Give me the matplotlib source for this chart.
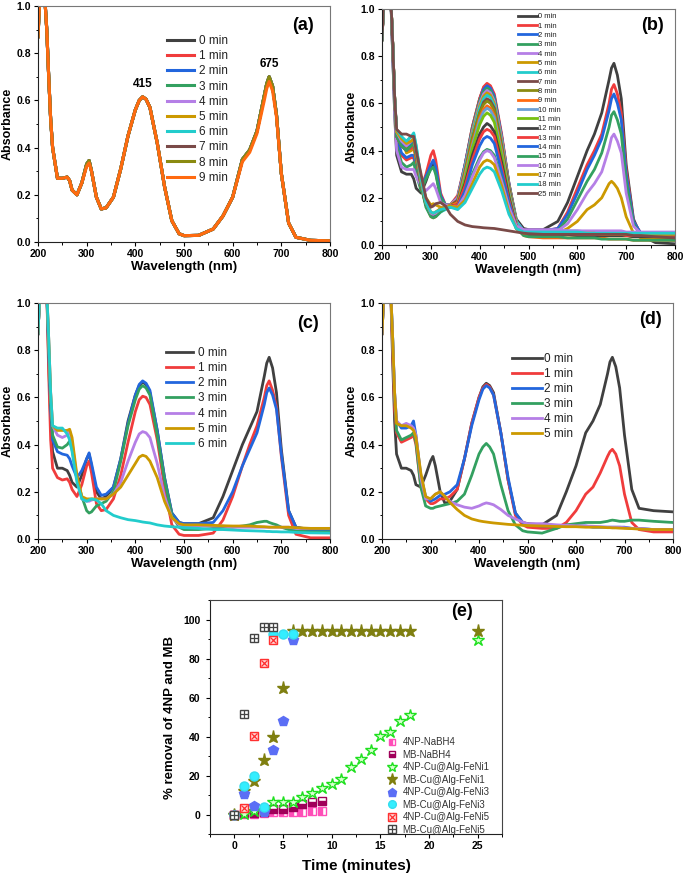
import numpy as np
import matplotlib
matplotlib.use('Agg')
import matplotlib.pyplot as plt
from matplotlib.ticker import MultipleLocator

plt.rcParams['font.family'] = ['Liberation Sans', 'DejaVu Sans']
plt.rcParams['font.weight'] = 'bold'

# wavelength grid shared by the spectra (nm)
wl = [200, 205, 212, 218, 222, 226, 230, 240, 250, 260, 265, 270, 280, 290, 300, 305, 310,
      320, 330, 340, 355, 370, 385, 400, 408, 415, 422, 430, 445, 460, 475, 490,
      500, 530, 560, 580, 600, 620, 635, 650, 665, 670, 675, 682, 690, 700, 715, 730, 760, 800]

# ---- panel (a): control, spectra do not change ----
a_early = [0.87, 1.1, 1.1, 0.9, 0.70, 0.52, 0.40, 0.27, 0.27, 0.275, 0.26, 0.22,
           0.20, 0.25, 0.33, 0.345, 0.30, 0.19, 0.14, 0.145,
           0.19, 0.31, 0.45, 0.56, 0.60, 0.615, 0.605, 0.57, 0.42, 0.235, 0.09, 0.035,
           0.027, 0.028, 0.055, 0.11, 0.19, 0.35, 0.39, 0.47, 0.62, 0.67, 0.70, 0.66,
           0.54, 0.29, 0.08, 0.02, 0.007, 0.005]
a_late = [0.87, 1.1, 1.1, 0.9, 0.70, 0.52, 0.40, 0.27, 0.27, 0.275, 0.26, 0.22,
          0.20, 0.25, 0.32, 0.335, 0.30, 0.19, 0.14, 0.145,
          0.19, 0.31, 0.45, 0.56, 0.60, 0.615, 0.605, 0.57, 0.42, 0.235, 0.09, 0.035,
          0.027, 0.028, 0.055, 0.11, 0.19, 0.34, 0.38, 0.46, 0.60, 0.65, 0.68, 0.64,
          0.53, 0.29, 0.08, 0.02, 0.007, 0.005]
a_times = ['0 min', '1 min', '2 min', '3 min', '4 min', '5 min', '6 min', '7 min', '8 min', '9 min']

# ---- panel (b) ----
b_00 = [0.87, 1.1, 1.1, 1.05, 0.80, 0.55, 0.38, 0.31, 0.30, 0.30, 0.28, 0.24,
        0.22, 0.27, 0.33, 0.35, 0.31, 0.20, 0.17, 0.17,
        0.20, 0.34, 0.50, 0.62, 0.665, 0.68, 0.67, 0.63, 0.46, 0.26, 0.11, 0.07,
        0.065, 0.065, 0.10, 0.18, 0.29, 0.40, 0.47, 0.56, 0.70, 0.75, 0.77, 0.72,
        0.62, 0.34, 0.11, 0.04, 0.01, 0.005]
b_01 = [0.87, 1.1, 1.1, 1.05, 0.82, 0.60, 0.45, 0.38, 0.36, 0.37, 0.37, 0.32,
        0.24, 0.30, 0.38, 0.40, 0.36, 0.22, 0.17, 0.17,
        0.21, 0.34, 0.50, 0.62, 0.67, 0.685, 0.675, 0.64, 0.47, 0.26, 0.10, 0.06,
        0.06, 0.06, 0.07, 0.14, 0.24, 0.34, 0.40, 0.47, 0.60, 0.66, 0.68, 0.64,
        0.56, 0.32, 0.10, 0.05, 0.04, 0.035]
b_02 = [0.87, 1.1, 1.1, 1.05, 0.82, 0.60, 0.46, 0.39, 0.37, 0.38, 0.38, 0.33,
        0.24, 0.29, 0.34, 0.36, 0.33, 0.21, 0.17, 0.17,
        0.20, 0.34, 0.49, 0.61, 0.66, 0.675, 0.665, 0.63, 0.46, 0.26, 0.10, 0.06,
        0.06, 0.06, 0.07, 0.13, 0.22, 0.32, 0.38, 0.45, 0.57, 0.62, 0.64, 0.60,
        0.53, 0.30, 0.10, 0.05, 0.045, 0.04]
b_03 = [0.87, 1.1, 1.1, 1.05, 0.80, 0.58, 0.42, 0.35, 0.33, 0.34, 0.35, 0.30,
        0.23, 0.28, 0.32, 0.33, 0.30, 0.20, 0.17, 0.17,
        0.20, 0.33, 0.49, 0.61, 0.65, 0.665, 0.655, 0.62, 0.45, 0.25, 0.10, 0.05,
        0.05, 0.05, 0.06, 0.11, 0.19, 0.27, 0.32, 0.39, 0.50, 0.55, 0.565, 0.53,
        0.47, 0.27, 0.09, 0.04, 0.03, 0.03]
b_04 = [0.87, 1.1, 1.1, 1.05, 0.80, 0.56, 0.40, 0.33, 0.32, 0.32, 0.32, 0.29,
        0.25, 0.23, 0.25, 0.26, 0.24, 0.18, 0.17, 0.17,
        0.20, 0.33, 0.48, 0.60, 0.64, 0.655, 0.645, 0.61, 0.45, 0.25, 0.10, 0.06,
        0.06, 0.06, 0.06, 0.09, 0.15, 0.22, 0.26, 0.31, 0.41, 0.455, 0.47, 0.44,
        0.39, 0.22, 0.08, 0.05, 0.05, 0.05]
b_05 = [0.87, 1.1, 1.1, 1.05, 0.85, 0.62, 0.47, 0.46, 0.39, 0.40, 0.41, 0.36,
        0.27, 0.20, 0.17, 0.175, 0.17, 0.16, 0.16, 0.17,
        0.19, 0.32, 0.47, 0.59, 0.63, 0.645, 0.635, 0.60, 0.44, 0.25, 0.10, 0.05,
        0.05, 0.05, 0.05, 0.07, 0.10, 0.15, 0.17, 0.20, 0.26, 0.27, 0.26, 0.24,
        0.20, 0.12, 0.05, 0.03, 0.025, 0.02]
b_06 = [0.87, 1.1, 1.1, 1.05, 0.85, 0.62, 0.47, 0.44, 0.44, 0.46, 0.47, 0.42,
        0.28, 0.19, 0.13, 0.12, 0.12, 0.14, 0.15, 0.16,
        0.19, 0.32, 0.46, 0.58, 0.62, 0.635, 0.625, 0.59, 0.43, 0.24, 0.10, 0.06,
        0.06, 0.055, 0.055, 0.055, 0.055, 0.055, 0.055, 0.055, 0.055, 0.055, 0.055, 0.055,
        0.055, 0.05, 0.05, 0.05, 0.05, 0.05]
b_07 = [0.87, 1.1, 1.1, 1.05, 0.85, 0.62, 0.47, 0.45, 0.43, 0.44, 0.45, 0.40,
        0.27, 0.18, 0.13, 0.125, 0.13, 0.15, 0.16, 0.165,
        0.19, 0.31, 0.45, 0.56, 0.605, 0.62, 0.61, 0.58, 0.42, 0.24, 0.09, 0.05,
        0.05, 0.05, 0.05, 0.05, 0.045, 0.045, 0.045, 0.045, 0.045, 0.045, 0.045, 0.045,
        0.045, 0.045, 0.04, 0.04, 0.04, 0.04]
b_08 = [0.87, 1.1, 1.1, 1.05, 0.85, 0.62, 0.48, 0.44, 0.42, 0.43, 0.44, 0.39,
        0.26, 0.17, 0.125, 0.12, 0.125, 0.15, 0.16, 0.165,
        0.18, 0.31, 0.45, 0.56, 0.595, 0.61, 0.60, 0.57, 0.41, 0.23, 0.09, 0.05,
        0.045, 0.045, 0.045, 0.045, 0.04, 0.04, 0.04, 0.04, 0.04, 0.04, 0.04, 0.04,
        0.04, 0.04, 0.035, 0.035, 0.035, 0.035]
b_09 = [0.87, 1.1, 1.1, 1.05, 0.85, 0.62, 0.47, 0.43, 0.41, 0.42, 0.43, 0.38,
        0.25, 0.17, 0.12, 0.115, 0.12, 0.15, 0.16, 0.165,
        0.18, 0.30, 0.43, 0.54, 0.575, 0.59, 0.58, 0.55, 0.40, 0.22, 0.09, 0.04,
        0.035, 0.03, 0.03, 0.03, 0.03, 0.03, 0.03, 0.03, 0.025, 0.025, 0.025, 0.025,
        0.025, 0.025, 0.02, 0.02, 0.02, 0.02]
b_10 = [0.87, 1.1, 1.1, 1.05, 0.85, 0.62, 0.48, 0.44, 0.42, 0.44, 0.45, 0.40,
        0.27, 0.18, 0.13, 0.13, 0.13, 0.15, 0.16, 0.165,
        0.17, 0.29, 0.42, 0.53, 0.565, 0.58, 0.57, 0.54, 0.39, 0.22, 0.09, 0.06,
        0.06, 0.06, 0.06, 0.06, 0.06, 0.055, 0.055, 0.055, 0.055, 0.055, 0.055, 0.055,
        0.055, 0.05, 0.05, 0.05, 0.05, 0.05]
b_11 = [0.87, 1.1, 1.1, 1.05, 0.85, 0.62, 0.47, 0.43, 0.41, 0.43, 0.44, 0.39,
        0.26, 0.17, 0.125, 0.12, 0.125, 0.15, 0.16, 0.165,
        0.17, 0.28, 0.41, 0.51, 0.545, 0.56, 0.55, 0.52, 0.38, 0.21, 0.08, 0.05,
        0.05, 0.05, 0.05, 0.05, 0.05, 0.05, 0.05, 0.045, 0.045, 0.045, 0.045, 0.045,
        0.045, 0.045, 0.045, 0.045, 0.045, 0.045]
b_12 = [0.87, 1.1, 1.1, 1.05, 0.85, 0.62, 0.46, 0.42, 0.40, 0.42, 0.43, 0.38,
        0.25, 0.17, 0.13, 0.125, 0.13, 0.15, 0.16, 0.165,
        0.17, 0.26, 0.38, 0.47, 0.50, 0.515, 0.505, 0.48, 0.35, 0.20, 0.08, 0.05,
        0.045, 0.045, 0.045, 0.045, 0.04, 0.04, 0.04, 0.04, 0.04, 0.04, 0.04, 0.04,
        0.04, 0.04, 0.035, 0.035, 0.035, 0.035]
b_13 = [0.87, 1.1, 1.1, 1.05, 0.85, 0.62, 0.46, 0.42, 0.40, 0.41, 0.42, 0.37,
        0.25, 0.17, 0.13, 0.13, 0.135, 0.15, 0.16, 0.165,
        0.17, 0.25, 0.36, 0.45, 0.48, 0.49, 0.483, 0.46, 0.33, 0.19, 0.08, 0.05,
        0.05, 0.05, 0.05, 0.05, 0.045, 0.045, 0.045, 0.045, 0.045, 0.045, 0.045, 0.045,
        0.045, 0.04, 0.04, 0.04, 0.04, 0.04]
b_14 = [0.87, 1.1, 1.1, 1.05, 0.85, 0.62, 0.47, 0.43, 0.42, 0.43, 0.44, 0.39,
        0.26, 0.17, 0.135, 0.13, 0.135, 0.15, 0.16, 0.165,
        0.16, 0.23, 0.34, 0.42, 0.45, 0.46, 0.453, 0.43, 0.31, 0.18, 0.07, 0.055,
        0.055, 0.055, 0.055, 0.05, 0.05, 0.05, 0.05, 0.05, 0.05, 0.05, 0.05, 0.05,
        0.05, 0.05, 0.045, 0.045, 0.045, 0.045]
b_15 = [0.87, 1.1, 1.1, 1.05, 0.85, 0.62, 0.46, 0.42, 0.40, 0.42, 0.43, 0.38,
        0.25, 0.16, 0.12, 0.115, 0.12, 0.14, 0.155, 0.16,
        0.16, 0.21, 0.30, 0.37, 0.395, 0.405, 0.40, 0.38, 0.28, 0.16, 0.07, 0.04,
        0.035, 0.035, 0.035, 0.03, 0.03, 0.03, 0.03, 0.025, 0.025, 0.025, 0.025, 0.025,
        0.025, 0.025, 0.02, 0.02, 0.02, 0.02]
b_16 = [0.87, 1.1, 1.1, 1.05, 0.85, 0.62, 0.48, 0.44, 0.42, 0.44, 0.45, 0.40,
        0.27, 0.18, 0.135, 0.13, 0.135, 0.155, 0.16, 0.165,
        0.16, 0.21, 0.29, 0.36, 0.39, 0.40, 0.394, 0.37, 0.27, 0.16, 0.08, 0.065,
        0.065, 0.065, 0.065, 0.06, 0.06, 0.06, 0.06, 0.06, 0.06, 0.06, 0.06, 0.06,
        0.06, 0.055, 0.055, 0.055, 0.055, 0.055]
b_17 = [0.87, 1.1, 1.1, 1.05, 0.85, 0.62, 0.48, 0.45, 0.43, 0.44, 0.45, 0.40,
        0.27, 0.18, 0.14, 0.135, 0.14, 0.155, 0.16, 0.165,
        0.16, 0.19, 0.26, 0.33, 0.352, 0.36, 0.355, 0.34, 0.25, 0.14, 0.07, 0.05,
        0.05, 0.05, 0.05, 0.05, 0.05, 0.05, 0.05, 0.045, 0.045, 0.045, 0.045, 0.045,
        0.045, 0.045, 0.045, 0.045, 0.045, 0.045]
b_18 = [0.87, 1.1, 1.1, 1.05, 0.85, 0.62, 0.49, 0.46, 0.44, 0.46, 0.475, 0.42,
        0.28, 0.18, 0.14, 0.135, 0.14, 0.15, 0.155, 0.16,
        0.15, 0.18, 0.24, 0.30, 0.322, 0.33, 0.325, 0.31, 0.23, 0.13, 0.07, 0.055,
        0.055, 0.055, 0.055, 0.055, 0.055, 0.05, 0.05, 0.05, 0.05, 0.05, 0.05, 0.05,
        0.05, 0.05, 0.05, 0.05, 0.05, 0.05]
b_25 = [0.87, 1.1, 1.1, 1.05, 0.85, 0.62, 0.49, 0.47, 0.47, 0.46, 0.46, 0.40,
        0.30, 0.20, 0.16, 0.165, 0.175, 0.18, 0.165, 0.13,
        0.10, 0.085, 0.078, 0.075, 0.073, 0.072, 0.071, 0.07, 0.065, 0.06, 0.055, 0.05,
        0.048, 0.045, 0.045, 0.045, 0.045, 0.045, 0.045, 0.045, 0.045, 0.045, 0.045, 0.045,
        0.045, 0.045, 0.04, 0.04, 0.035, 0.03]
b_times = ['0 min', '1 min', '2 min', '3 min', '4 min', '5 min', '6 min', '7 min', '8 min', '9 min',
           '10 min', '11 min', '12 min', '13 min', '14 min', '15 min', '16 min', '17 min', '18 min', '25 min']

# ---- panel (c) ----
c_0 = [0.87, 1.1, 1.1, 1.05, 0.75, 0.50, 0.37, 0.30, 0.30, 0.29, 0.27, 0.24,
       0.22, 0.27, 0.34, 0.36, 0.31, 0.20, 0.17, 0.18,
       0.22, 0.34, 0.50, 0.61, 0.65, 0.665, 0.655, 0.62, 0.46, 0.26, 0.11, 0.07,
       0.065, 0.065, 0.09, 0.18, 0.29, 0.40, 0.47, 0.54, 0.69, 0.745, 0.77, 0.725,
       0.62, 0.38, 0.12, 0.05, 0.04, 0.035]
c_1 = [0.87, 1.1, 1.1, 1.05, 0.70, 0.42, 0.30, 0.26, 0.25, 0.255, 0.24, 0.21,
       0.18, 0.23, 0.31, 0.33, 0.28, 0.15, 0.12, 0.125,
       0.17, 0.27, 0.41, 0.54, 0.59, 0.605, 0.60, 0.57, 0.42, 0.22, 0.06, 0.02,
       0.015, 0.015, 0.025, 0.08, 0.18, 0.31, 0.40, 0.48, 0.60, 0.65, 0.67, 0.63,
       0.56, 0.35, 0.10, 0.02, 0.005, 0.005]
c_2 = [0.87, 1.1, 1.1, 1.05, 0.80, 0.55, 0.42, 0.37, 0.36, 0.355, 0.34, 0.31,
       0.26, 0.29, 0.34, 0.365, 0.32, 0.22, 0.185, 0.19,
       0.22, 0.34, 0.49, 0.61, 0.655, 0.67, 0.66, 0.63, 0.46, 0.26, 0.11, 0.07,
       0.065, 0.065, 0.07, 0.12, 0.20, 0.31, 0.38, 0.45, 0.57, 0.62, 0.64, 0.61,
       0.55, 0.36, 0.12, 0.05, 0.035, 0.035]
c_3 = [0.87, 1.1, 1.1, 1.05, 0.82, 0.58, 0.44, 0.39, 0.385, 0.40, 0.415, 0.38,
       0.26, 0.18, 0.12, 0.11, 0.115, 0.14, 0.15, 0.16,
       0.20, 0.33, 0.48, 0.59, 0.635, 0.65, 0.64, 0.61, 0.44, 0.25, 0.10, 0.05,
       0.04, 0.04, 0.045, 0.05, 0.05, 0.055, 0.06, 0.07, 0.075, 0.075, 0.07, 0.065,
       0.06, 0.05, 0.04, 0.035, 0.03, 0.03]
c_4 = [0.87, 1.1, 1.1, 1.05, 0.85, 0.62, 0.48, 0.44, 0.43, 0.44, 0.46, 0.41,
       0.26, 0.17, 0.16, 0.16, 0.165, 0.17, 0.17, 0.17,
       0.19, 0.24, 0.33, 0.41, 0.445, 0.455, 0.45, 0.43, 0.32, 0.18, 0.09, 0.06,
       0.055, 0.055, 0.055, 0.055, 0.05, 0.05, 0.05, 0.05, 0.05, 0.05, 0.05, 0.05,
       0.05, 0.05, 0.05, 0.045, 0.045, 0.045]
c_5 = [0.87, 1.1, 1.1, 1.05, 0.85, 0.62, 0.48, 0.46, 0.46, 0.46, 0.465, 0.43,
       0.27, 0.18, 0.17, 0.17, 0.17, 0.17, 0.17, 0.17,
       0.19, 0.22, 0.27, 0.32, 0.347, 0.355, 0.35, 0.33, 0.26, 0.16, 0.09, 0.065,
       0.06, 0.06, 0.058, 0.056, 0.055, 0.055, 0.055, 0.053, 0.052, 0.051, 0.05, 0.05,
       0.05, 0.05, 0.05, 0.048, 0.045, 0.045]
c_6 = [0.87, 1.1, 1.1, 1.05, 0.85, 0.62, 0.48, 0.47, 0.47, 0.445, 0.42, 0.37,
       0.24, 0.17, 0.16, 0.165, 0.17, 0.165, 0.15, 0.12,
       0.10, 0.09, 0.082, 0.078, 0.075, 0.072, 0.07, 0.068, 0.06, 0.055, 0.052, 0.05,
       0.048, 0.045, 0.04, 0.04, 0.038, 0.036, 0.035, 0.034, 0.033, 0.032, 0.032, 0.031,
       0.031, 0.03, 0.03, 0.028, 0.026, 0.025]
c_times = ['0 min', '1 min', '2 min', '3 min', '4 min', '5 min', '6 min']

# ---- panel (d) ----
d_0 = [0.87, 1.1, 1.1, 1.05, 0.75, 0.50, 0.36, 0.30, 0.30, 0.29, 0.27, 0.23,
       0.22, 0.27, 0.33, 0.35, 0.31, 0.20, 0.15, 0.16,
       0.21, 0.34, 0.49, 0.60, 0.645, 0.66, 0.65, 0.62, 0.45, 0.25, 0.11, 0.07,
       0.065, 0.06, 0.10, 0.20, 0.31, 0.45, 0.50, 0.57, 0.70, 0.75, 0.77, 0.73,
       0.64, 0.44, 0.21, 0.13, 0.12, 0.115]
d_1 = [0.87, 1.1, 1.1, 1.05, 0.80, 0.55, 0.45, 0.41, 0.42, 0.43, 0.44, 0.40,
       0.22, 0.17, 0.15, 0.15, 0.155, 0.17, 0.17, 0.18,
       0.21, 0.34, 0.49, 0.60, 0.64, 0.655, 0.645, 0.61, 0.45, 0.25, 0.10, 0.06,
       0.05, 0.045, 0.045, 0.07, 0.12, 0.19, 0.22, 0.28, 0.35, 0.37, 0.38, 0.36,
       0.31, 0.19, 0.07, 0.04, 0.03, 0.03]
d_2 = [0.87, 1.1, 1.1, 1.05, 0.85, 0.62, 0.50, 0.47, 0.47, 0.48, 0.50, 0.44,
       0.27, 0.18, 0.16, 0.165, 0.17, 0.185, 0.19, 0.20,
       0.23, 0.34, 0.48, 0.59, 0.635, 0.65, 0.64, 0.61, 0.45, 0.26, 0.11, 0.07,
       0.06, 0.055, 0.055, 0.055, 0.055, 0.055, 0.05, 0.05, 0.05, 0.05, 0.05, 0.05,
       0.05, 0.05, 0.045, 0.045, 0.04, 0.04]
d_3 = [0.87, 1.1, 1.1, 1.05, 0.85, 0.60, 0.46, 0.42, 0.43, 0.44, 0.45, 0.41,
       0.22, 0.14, 0.13, 0.13, 0.135, 0.14, 0.145, 0.15,
       0.16, 0.19, 0.27, 0.36, 0.39, 0.405, 0.39, 0.36, 0.23, 0.12, 0.06, 0.035,
       0.03, 0.025, 0.045, 0.06, 0.065, 0.07, 0.07, 0.07, 0.075, 0.078, 0.08, 0.078,
       0.075, 0.075, 0.08, 0.08, 0.075, 0.07]
d_4 = [0.87, 1.1, 1.1, 1.05, 0.85, 0.62, 0.50, 0.48, 0.49, 0.48, 0.47, 0.44,
       0.26, 0.17, 0.17, 0.18, 0.19, 0.20, 0.18, 0.16,
       0.145, 0.135, 0.13, 0.14, 0.148, 0.153, 0.15, 0.145, 0.125, 0.10, 0.085, 0.072,
       0.065, 0.065, 0.06, 0.058, 0.056, 0.055, 0.054, 0.052, 0.05, 0.05, 0.05, 0.05,
       0.05, 0.048, 0.045, 0.045, 0.04, 0.04]
d_5 = [0.87, 1.1, 1.1, 1.05, 0.85, 0.62, 0.49, 0.48, 0.48, 0.47, 0.46, 0.43,
       0.28, 0.18, 0.17, 0.18, 0.19, 0.20, 0.18, 0.155,
       0.125, 0.10, 0.085, 0.077, 0.074, 0.072, 0.07, 0.068, 0.065, 0.062, 0.06, 0.058,
       0.057, 0.055, 0.053, 0.052, 0.052, 0.05, 0.05, 0.05, 0.048, 0.048, 0.047, 0.047,
       0.046, 0.045, 0.044, 0.042, 0.04, 0.04]
d_times = ['0 min', '1 min', '2 min', '3 min', '4 min', '5 min']

# ---- panel (e): % removal vs time ----
t_nabh4 = [0, 1, 2, 3, 4, 5, 6, 7, 8, 9]
r_4np_nabh4 = [0, 0.3, 0.5, 1.0, 1.2, 1.3, 1.4, 1.5, 1.6, 1.6]
r_mb_nabh4 = [0, 1.0, 1.0, 1.5, 2.6, 2.7, 4.0, 5.4, 6.2, 7.0]
t_feni1 = [0, 1, 2, 3, 4, 5, 6, 7, 8, 9, 10, 11, 12, 13, 14, 15, 16, 17, 18, 25]
r_4np_feni1 = [0, 0.3, 1.8, 2.5, 6.5, 6.5, 6.3, 9.2, 10.9, 13.8, 15.5, 18.0, 24.3, 28.5,
               33.3, 40.4, 42.1, 48.0, 51.1, 89.3]
r_mb_feni1 = [0, 12.0, 17.0, 28.0, 39.6, 64.7, 94, 94, 94, 94, 94, 94, 94, 94, 94, 94, 94, 94, 94, 94]
t_feni3 = [0, 1, 2, 3, 4, 5, 6]
r_4np_feni3 = [0, 10.5, 4.5, 1.5, 33.0, 48.0, 89.5]
r_mb_feni3 = [0, 14.5, 19.5, 3.6, 92.5, 92.5, 92.5]
t_feni5 = [0, 1, 2, 3, 4]
r_4np_feni5 = [0, 3.2, 40.5, 77.8, 89.6]
r_mb_feni5 = [0, 51.6, 90.7, 96.1, 96.1]

# Origin-like palette
DK, RD, BL, GN, PU, GD, CY = '#404040', '#f03c3c', '#2266dd', '#33a060', '#b57fe6', '#cc9900', '#22cccc'
BR, OL, OR, LB, YG = '#7a4a48', '#8a8a10', '#ff6a10', '#6a9fd5', '#77c011'

W, H = 685.0, 880.0


def px(x, y):
    return x / W, 1 - y / H


def rect(l, t, r, b):
    return [l / W, 1 - b / H, (r - l) / W, (b - t) / H]


def style(ax):
    ax.tick_params(direction='out', length=3, width=0.8, labelsize=7.5, pad=2)
    ax.tick_params(which='minor', direction='out', length=1.8, width=0.7)
    for s in ['left', 'bottom']:
        ax.spines[s].set_color('#222222')
    for s in ['top', 'right']:
        ax.spines[s].set_color('#777777')


def spectra(r, curves, labels, colors, tag, tag_xy, leg_xy, fs, hl, tp, sp, lw):
    ax = fig.add_axes(rect(*r))
    for y, lab, col in zip(curves, labels, colors):
        ax.plot(wl, y, color=col, lw=lw, label=lab, solid_joinstyle='round')
    ax.set_xlim(200, 800)
    ax.set_ylim(0, 1)
    ax.xaxis.set_major_locator(MultipleLocator(100))
    ax.xaxis.set_minor_locator(MultipleLocator(50))
    ax.yaxis.set_major_locator(MultipleLocator(0.2))
    ax.yaxis.set_minor_locator(MultipleLocator(0.1))
    style(ax)
    ax.legend(loc='upper left', bbox_to_anchor=leg_xy, frameon=False, borderpad=0,
              borderaxespad=0, handlelength=hl, handletextpad=tp, labelspacing=sp,
              prop={'weight': 'normal', 'size': fs}, labelcolor='#222222')
    fig.text(*px(*tag_xy), tag, fontsize=13, ha='center', va='center')
    l, t, rr, b = r
    fig.text(*px((l + rr) / 2, b + 25), 'Wavelength (nm)', fontsize=9.5, ha='center', va='center')
    fig.text(*px(l - 30, (t + b) / 2), 'Absorbance', fontsize=9, ha='center', va='center',
             rotation=90)
    return ax


fig = plt.figure(figsize=(6.85, 8.8), dpi=100)

# (a)
ax_a = spectra((38, 6, 330, 242), [a_early] * 9 + [a_late], a_times,
               [DK, RD, BL, GN, PU, GD, CY, BR, OL, OR], '(a)', (303, 25),
               (0.442, 0.877), 8.5, 2.3, 0.4, 0.27, 2.2)
ax_a.text(415, 0.645, '415', fontsize=8.5, ha='center', va='bottom')
ax_a.text(675, 0.73, '675', fontsize=8.5, ha='center', va='bottom')

# (b)
spectra((382, 9, 675, 245),
        [b_00, b_01, b_02, b_03, b_04, b_05, b_06, b_07, b_08, b_09,
         b_10, b_11, b_12, b_13, b_14, b_15, b_16, b_17, b_18, b_25], b_times,
        [DK, RD, BL, GN, PU, GD, CY, BR, OL, OR, LB, YG, DK, RD, BL, GN, PU, GD, CY, BR],
        '(b)', (652, 25), (0.464, 0.983), 5.5, 2.5, 0.15, 0.26, 2.0)

# (c)
spectra((38, 303, 330, 539), [c_0, c_1, c_2, c_3, c_4, c_5, c_6], c_times,
        [DK, RD, BL, GN, PU, GD, CY], '(c)', (308, 323), (0.438, 0.814),
        8.5, 2.3, 0.4, 0.27, 2.0)

# (d)
spectra((382, 303, 673, 539), [d_0, d_1, d_2, d_3, d_4, d_5], d_times,
        [DK, RD, BL, GN, PU, GD], '(d)', (650, 320), (0.447, 0.788),
        8.5, 2.5, 0.2, 0.25, 2.0)

# (e)
ax = fig.add_axes(rect(210, 600, 502, 834))
h1, = ax.plot(t_nabh4, r_4np_nabh4, ls='none', marker='s', ms=5.5, fillstyle='left',
              color='#ff4db8', markerfacecoloralt='white', mec='#ff4db8')
h2, = ax.plot(t_nabh4, r_mb_nabh4, ls='none', marker='s', ms=5.5, fillstyle='bottom',
              color='#a0005a', markerfacecoloralt='white', mec='#a0005a')
h3, = ax.plot(t_feni1, r_4np_feni1, ls='none', marker='*', ms=9, mfc='#d8ffd0',
              mec='#1fe01f', mew=1.0)
h4, = ax.plot(t_feni1, r_mb_feni1, ls='none', marker='*', ms=9.5, color='#7f7f10')
h5, = ax.plot(t_feni3, r_4np_feni3, ls='none', marker='p', ms=7.5, color='#5b6ef5')
h6, = ax.plot(t_feni3, r_mb_feni3, ls='none', marker='o', ms=6.5, color='#33eeff', mec='#33ddee')
h7a, = ax.plot(t_feni5, r_4np_feni5, ls='none', marker='s', ms=6, mfc='#ffd6d6', mec='#ff3030')
h7b, = ax.plot(t_feni5, r_4np_feni5, ls='none', marker='x', ms=4.5, color='#ff3030', mew=0.9)
h8a, = ax.plot(t_feni5, r_mb_feni5, ls='none', marker='s', ms=6, mfc='white', mec='#444444')
h8b, = ax.plot(t_feni5, r_mb_feni5, ls='none', marker='+', ms=6, color='#444444', mew=0.9)
ax.set_xlim(-2.5, 27.5)
ax.set_ylim(-10, 110)
ax.xaxis.set_major_locator(MultipleLocator(5))
ax.xaxis.set_minor_locator(MultipleLocator(2.5))
ax.yaxis.set_major_locator(MultipleLocator(20))
ax.yaxis.set_minor_locator(MultipleLocator(10))
style(ax)
ax.tick_params(axis='y', pad=4)
for s in ['top', 'right']:
    ax.spines[s].set_color('#444444')
ax.legend([h1, h2, h3, h4, h5, h6, (h7a, h7b), (h8a, h8b)],
          ['4NP-NaBH4', 'MB-NaBH4', '4NP-Cu@Alg-FeNi1', 'MB-Cu@Alg-FeNi1',
           '4NP-Cu@Alg-FeNi3', 'MB-Cu@Alg-FeNi3', '4NP-Cu@Alg-FeNi5', 'MB-Cu@Alg-FeNi5'],
          loc='upper left', bbox_to_anchor=(0.606, 0.414), frameon=False, borderpad=0,
          borderaxespad=0, handlelength=1.0, handletextpad=0.6, labelspacing=0.26,
          markerscale=0.85, prop={'weight': 'normal', 'size': 7}, labelcolor='#333333')
fig.text(*px(462, 611), '(e)', fontsize=13, ha='center', va='center')
fig.text(*px(356, 866), 'Time (minutes)', fontsize=11, ha='center', va='center')
fig.text(*px(170, 717), '% removal of 4NP and MB', fontsize=9.5, ha='center', va='center',
         rotation=90)

fig.savefig('out.png', dpi=100)
